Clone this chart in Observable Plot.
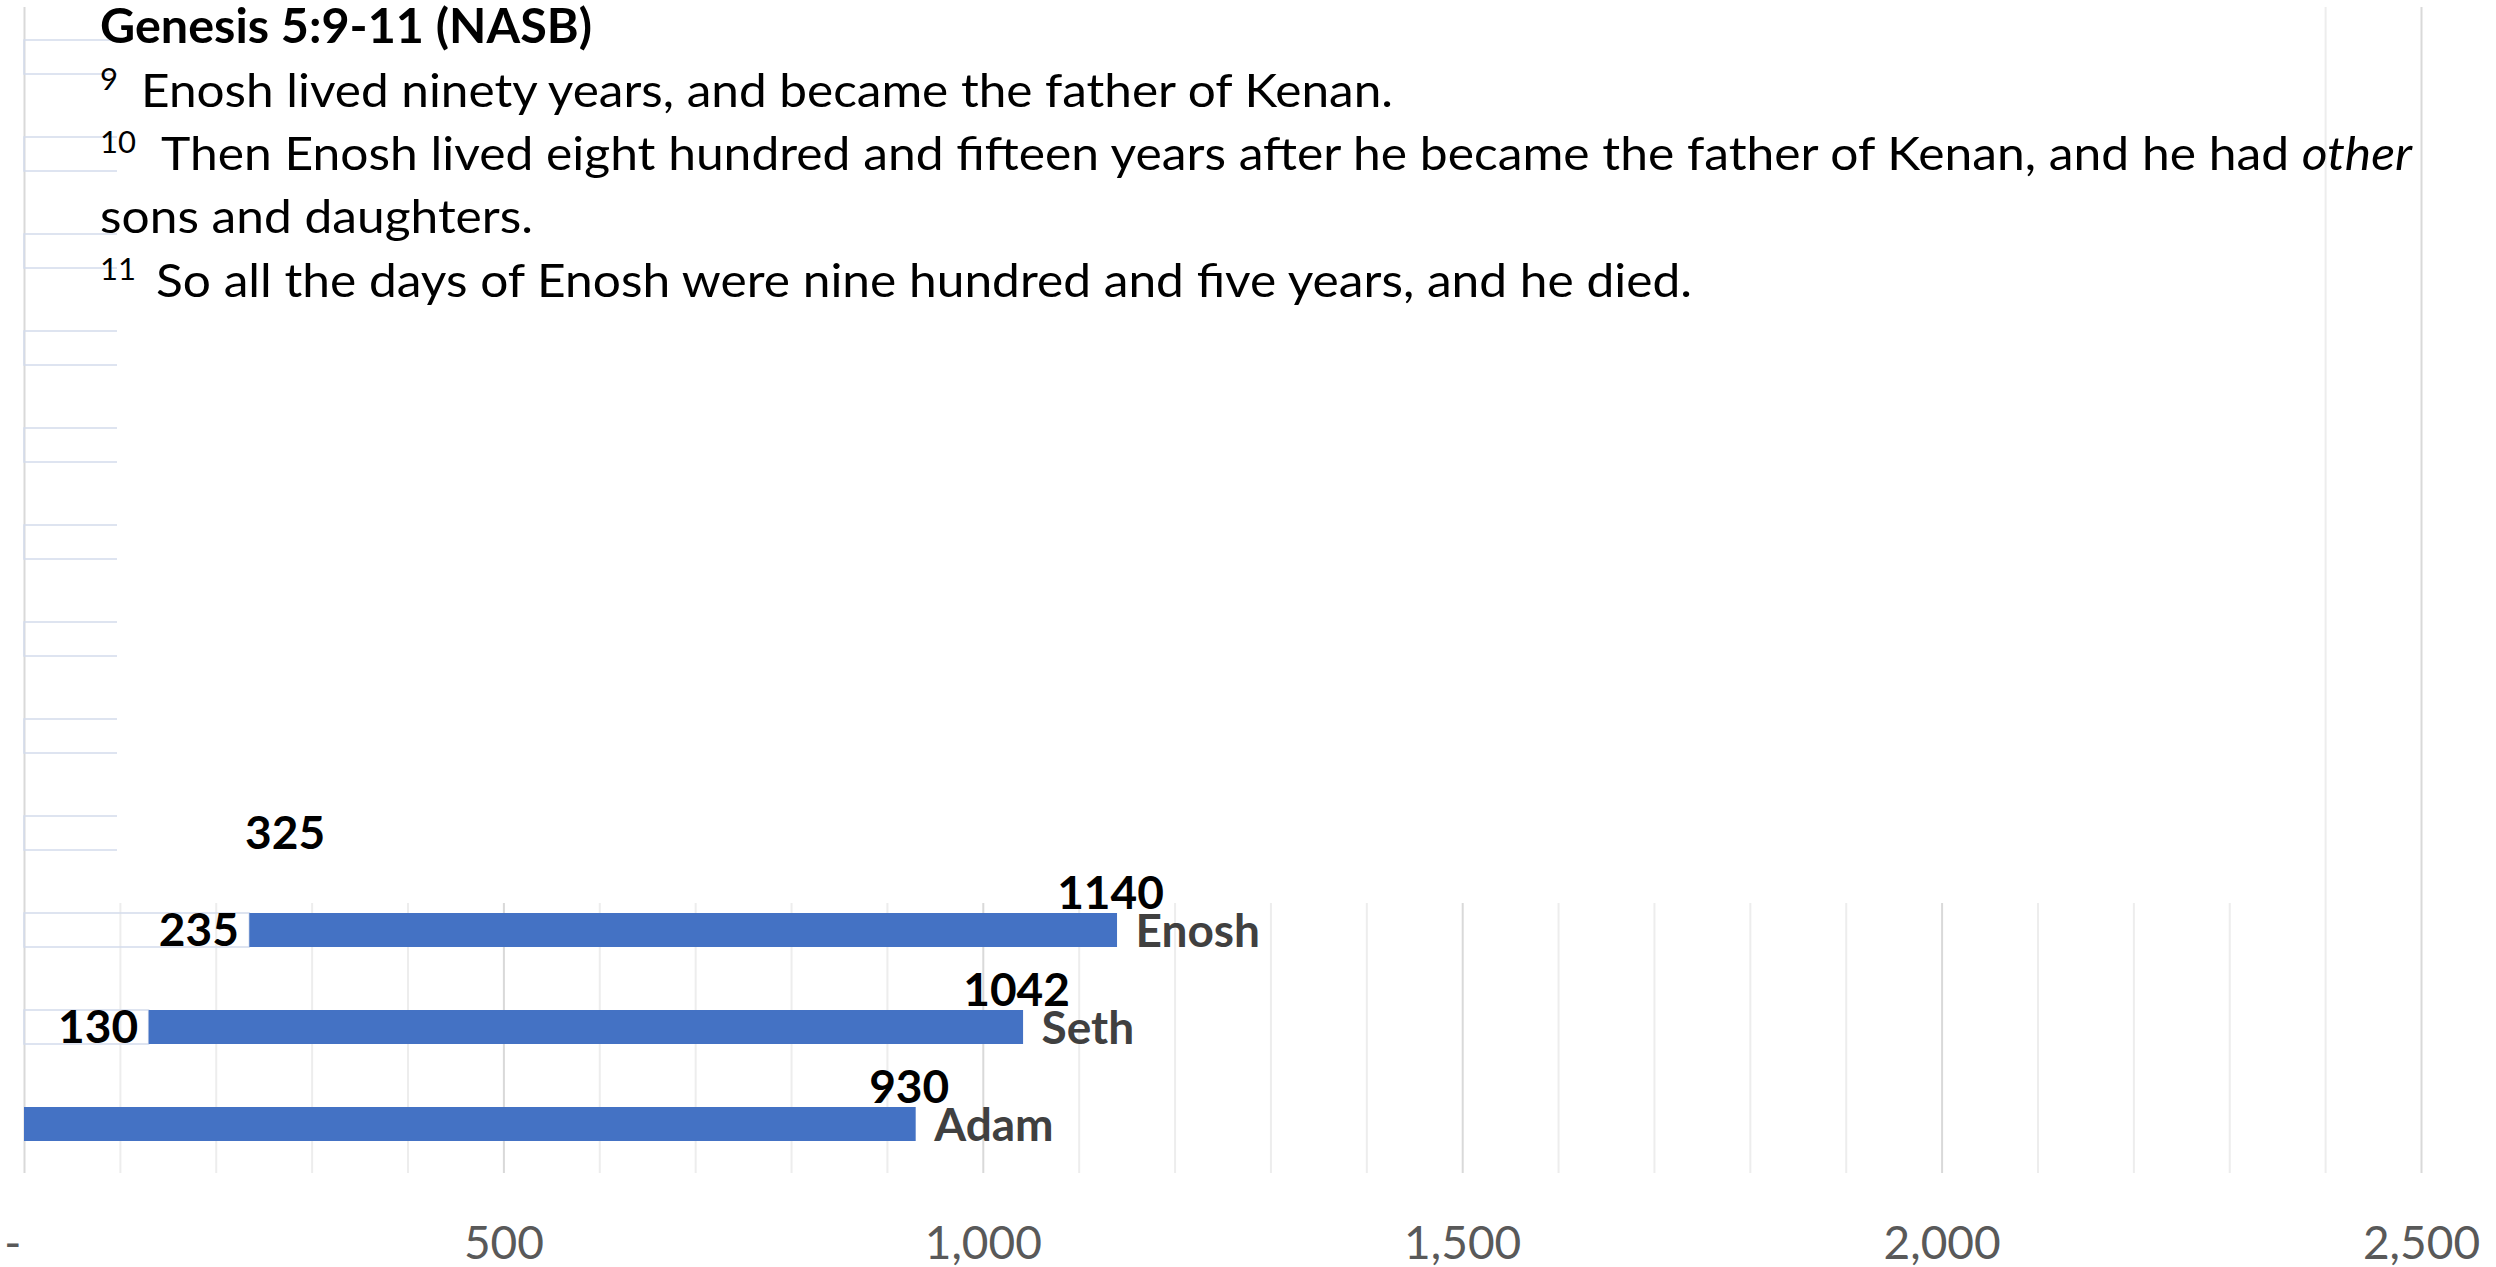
<!DOCTYPE html>
<html>
<head>
<meta charset="utf-8">
<script src="https://cdn.jsdelivr.net/npm/d3@7"></script>
<script src="https://cdn.jsdelivr.net/npm/@observablehq/plot@0.6"></script>
<style>
  html, body { margin: 0; padding: 0; background: #ffffff; }
  #chart { position: relative; width: 2496px; height: 1267px; }
</style>
</head>
<body>
<div id="chart"></div>
<script>
// ---- data (rows listed top to bottom) ----
const rows = ["Arphaxad", "Shem", "Noah", "Lamech", "Methuselah", "Enoch", "Jared", "Mahalalel", "Kenan", "Enosh", "Seth", "Adam"];
const birthYears = [1658, 1558, 1056, 874, 687, 622, 460, 395, 325, 235, 130, 0];

const shownRows = ["Enosh", "Seth", "Adam"];
const shownBirth = [235, 130, 0];
const shownDeath = [1140, 1042, 930];

const birthLabelRows = ["Kenan", "Enosh", "Seth"];
const birthLabelValues = [325, 235, 130];

const xTicks = [0, 500, 1000, 1500, 2000, 2500];
const gridMinor = [100, 200, 300, 400, 600, 700, 800, 900, 1100, 1200, 1300, 1400, 1600, 1700, 1800, 1900, 2100, 2200, 2300, 2400];
const gridMajor = [0, 500, 1000, 1500, 2000, 2500];

const titleText = "Genesis 5:9-11 (NASB)";
const verseNumbers = ["9", "10", "11"];
const verse9 = "Enosh lived ninety years, and became the father of Kenan.";
const verse10a = "Then Enosh lived eight hundred and fifteen years after he became the father of Kenan, and he had ";
const verse10b = "other";
const verse10c = "sons and daughters.";
const verse11 = "So all the days of Enosh were nine hundred and five years, and he died.";

// ---- tables built from the arrays ----
const outlineData = rows.map((r, i) => ({row: r, birth: birthYears[i]})).filter(d => d.birth > 0);
const barData = shownRows.map((r, i) => ({row: r, birth: shownBirth[i], death: shownDeath[i]}));
const birthLabels = birthLabelRows.map((r, i) => ({row: r, value: birthLabelValues[i]}));

const FONT = "Lato, 'Open Sans', sans-serif";

// white panel that hides the upper part of the plot (the text box of the slide)
function whitePanel(...args) {
  const sc = args.find(a => a && typeof a.x === "function" && typeof a.y === "function");
  const x0 = sc ? sc.x(97) : 117;
  const x1 = sc ? sc.x(2350) : 2277;
  const yb = sc ? sc.y("Enosh") - 10 : 904;
  const r = document.createElementNS("http://www.w3.org/2000/svg", "rect");
  r.setAttribute("x", x0);
  r.setAttribute("y", 0);
  r.setAttribute("width", x1 - x0);
  r.setAttribute("height", yb);
  r.setAttribute("fill", "#ffffff");
  return r;
}

const chart = Plot.plot({
  width: 2496,
  height: 1267,
  marginLeft: 24,
  marginRight: 75,
  marginTop: 7,
  marginBottom: 94,
  style: {fontFamily: FONT, background: "#ffffff", color: "#595959", overflow: "visible"},
  x: {domain: [0, 2500]},
  y: {domain: rows, paddingInner: 0.65, paddingOuter: 0.325, axis: null},
  marks: [
    Plot.ruleX(gridMinor, {stroke: "#ededed", strokeWidth: 2}),
    Plot.ruleX(gridMajor, {stroke: "#d9d9d9", strokeWidth: 2}),
    Plot.barX(outlineData, {x1: () => 0, x2: "birth", y: "row", fill: "none", stroke: "#d3dbec", strokeWidth: 1.5}),
    whitePanel,
    Plot.barX(barData, {x1: "birth", x2: "death", y: "row", fill: "#4472c4"}),
    Plot.text(birthLabels, {x: "value", y: "row", text: d => String(d.value), textAnchor: "end", dx: -11, dy: 1,
      fontSize: 46, fontWeight: "bold", fill: "#000000"}),
    Plot.text(barData, {x: "death", y: "row", text: d => String(d.death), textAnchor: "middle", dx: -7, dy: -36,
      fontSize: 46, fontWeight: "bold", fill: "#000000"}),
    Plot.text(barData, {x: "death", y: "row", text: "row", textAnchor: "start", dx: 18, dy: 2,
      fontSize: 46, fontWeight: "bold", fill: "#404040"}),
    Plot.axisX(xTicks, {tickSize: 0, tickPadding: 53, fontSize: 46, fill: "#595959", label: null,
      tickFormat: d => d === 0 ? "-\u00a0\u00a0" : d3.format(",")(d)})
  ]
});

// ---- verse text block drawn into the same SVG ----
const svg = d3.select(chart);
const g = svg.append("g")
  .attr("font-family", FONT)
  .attr("fill", "#000000")
  .attr("text-anchor", "start");

function line(x, y, size, weight, len) {
  const t = g.append("text")
    .attr("x", x).attr("y", y)
    .attr("font-size", size).attr("font-weight", weight)
    .attr("text-anchor", "start");
  if (len) t.attr("textLength", len).attr("lengthAdjust", "spacingAndGlyphs");
  return t;
}
line(100, 43, 48, "bold", 492).text(titleText);

line(100, 90, 31, "normal").text(verseNumbers[0]);
line(141, 107, 47, "normal", 1252).text(verse9);

line(100, 153, 31, "normal").text(verseNumbers[1]);
const l10 = line(161, 170, 47, "normal", 2251);
l10.append("tspan").text(verse10a);
l10.append("tspan").attr("font-style", "italic").text(verse10b);

line(100, 233, 47, "normal", 433).text(verse10c);

line(100, 280, 31, "normal").text(verseNumbers[2]);
line(156, 297, 47, "normal", 1536).text(verse11);

document.getElementById("chart").appendChild(chart);
</script>
</body>
</html>
